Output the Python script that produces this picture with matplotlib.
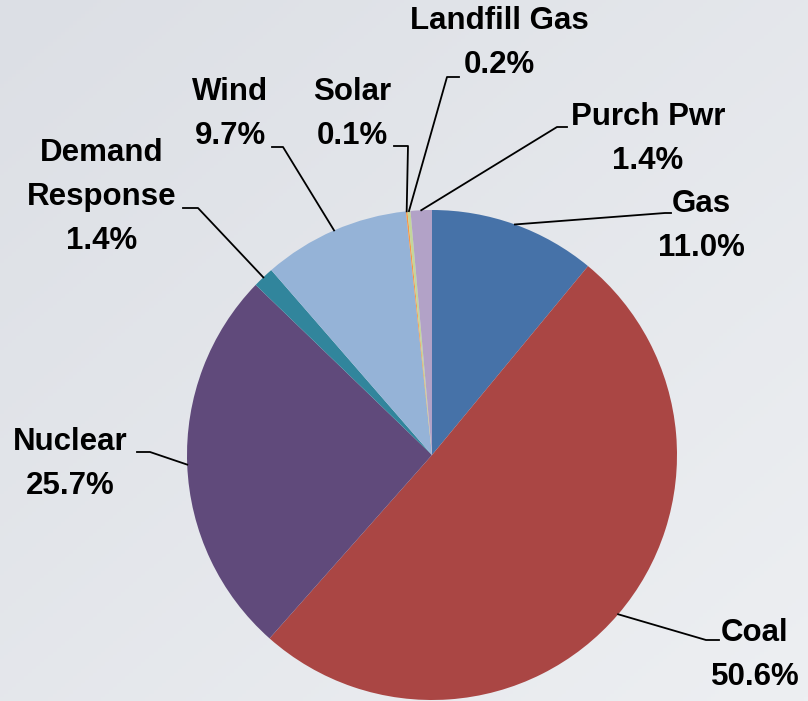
import numpy as np
import matplotlib
matplotlib.use('Agg')
import matplotlib.pyplot as plt

# данные
sources = ['Gas', 'Coal', 'Nuclear', 'Demand\nResponse', 'Wind', 'Solar', 'Landfill Gas', 'Purch Pwr']
shares = [11.0, 50.6, 25.7, 1.4, 9.7, 0.1, 0.2, 1.4]
colors = ['#4672a8', '#aa4644', '#604a7b', '#31859c', '#95b3d7', '#f79646', '#c3d69b', '#b2a2c7']

W, H = 808, 701
CX, CY, R = 432, 455, 245  # центр и радиус круга в пикселях картинки

# раскладка подписей: центр текста и точка излома выноски (пиксели, y сверху)
label_pos = [(701, 226), (755, 655), (70, 464), (102, 197), (230, 114), (352, 114), (499, 43), (648, 139)]
elbows = [((665, 213), (671, 213)),
          ((706, 640), (719, 640)),
          ((150, 452), (137, 452)),
          ((198, 208), (183, 208)),
          ((283, 147), (272, 147)),
          ((408, 146), (394, 146)),
          ((447, 77), (459, 77)),
          ((557, 127), (567, 127))]

plt.rcParams['font.family'] = ['Liberation Sans', 'DejaVu Sans']

fig = plt.figure(figsize=(W / 100, H / 100), dpi=100)
ax = fig.add_axes([0, 0, 1, 1])

# фон с лёгким градиентом: темнее слева сверху
gx, gy = np.meshgrid(np.linspace(0, 1, 200), np.linspace(0, 1, 200))
g = 0.5 * gx + 0.5 * gy
c0 = np.array([0xdc, 0xdf, 0xe5]) / 255
c1 = np.array([0xed, 0xef, 0xf2]) / 255
bg = c0[None, None, :] * (1 - g[..., None]) + c1[None, None, :] * g[..., None]
ax.imshow(bg, extent=(0, W, 0, H), origin='upper', zorder=0, aspect='auto')

wedges, _ = ax.pie(shares, colors=colors, startangle=90, counterclock=False,
                   center=(CX, H - CY), radius=R, frame=True,
                   wedgeprops=dict(linewidth=0))
ax.set_xlim(0, W)
ax.set_ylim(0, H)
ax.set_aspect('equal')
ax.axis('off')

for i, w in enumerate(wedges):
	mid = np.deg2rad((w.theta1 + w.theta2) / 2)
	px = CX + R * np.cos(mid)
	py = (H - CY) + R * np.sin(mid)
	(e1x, e1y), (e2x, e2y) = elbows[i]
	ax.plot([px, e1x, e2x], [py, H - e1y, H - e2y], color='black', lw=1.3, zorder=3)
	tx, ty = label_pos[i]
	txt = '%s\n%.1f%%' % (sources[i], shares[i])
	ax.text(tx, H - ty, txt, ha='center', va='center', fontsize=22.5,
	        fontweight='bold', linespacing=1.6, zorder=4)

fig.savefig('out.png', dpi=100)
